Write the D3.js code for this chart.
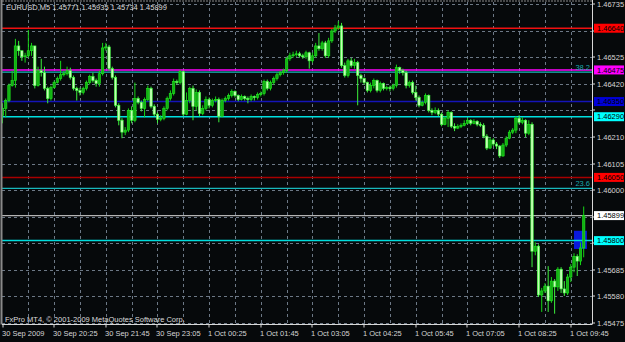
<!DOCTYPE html>
<html>
<head>
<meta charset="utf-8">
<script src="https://cdn.jsdelivr.net/npm/d3@7"></script>
<style>
  body { margin: 0; background: #000; }
  svg { display: block; }
  text { font-family: "Liberation Sans", Arial, sans-serif; }
</style>
</head>
<body>
<script>
// EURUSD M5, 30 Sep 2009 19:05 -> 1 Oct 2009 10:05 (181 bars, open = previous close)
var symbol = "EURUSD,M5";
var startTime = "2009-09-30 19:05";
var open0 = 1.46296;

var closes = [
  1.46323, 1.46354, 1.46413, 1.46433, 1.46570, 1.46551, 1.46527, 1.46531, 1.46551, 1.46570,
  1.46413, 1.46472, 1.46464, 1.46402, 1.46362, 1.46405, 1.46425, 1.46441, 1.46456, 1.46460,
  1.46472, 1.46445, 1.46402, 1.46394, 1.46386, 1.46402, 1.46425, 1.46449, 1.46433, 1.46421,
  1.46460, 1.46562, 1.46566, 1.46480, 1.46445, 1.46335, 1.46276, 1.46229, 1.46237, 1.46315,
  1.46276, 1.46362, 1.46347, 1.46323, 1.46358, 1.46402, 1.46331, 1.46300, 1.46280, 1.46284,
  1.46323, 1.46362, 1.46382, 1.46429, 1.46425, 1.46468, 1.46300, 1.46354, 1.46402, 1.46331,
  1.46386, 1.46303, 1.46323, 1.46358, 1.46335, 1.46354, 1.46358, 1.46292, 1.46354, 1.46362,
  1.46374, 1.46390, 1.46374, 1.46358, 1.46370, 1.46362, 1.46358, 1.46370, 1.46366, 1.46378,
  1.46382, 1.46429, 1.46402, 1.46425, 1.46441, 1.46456, 1.46464, 1.46472, 1.46519, 1.46531,
  1.46535, 1.46539, 1.46531, 1.46527, 1.46543, 1.46511, 1.46531, 1.46570, 1.46559, 1.46582,
  1.46531, 1.46590, 1.46629, 1.46641, 1.46649, 1.46492, 1.46453, 1.46511, 1.46492, 1.46504,
  1.46453, 1.46441, 1.46425, 1.46394, 1.46413, 1.46433, 1.46394, 1.46421, 1.46402, 1.46405,
  1.46402, 1.46413, 1.46484, 1.46472, 1.46464, 1.46413, 1.46425, 1.46386, 1.46366, 1.46335,
  1.46347, 1.46374, 1.46315, 1.46307, 1.46315, 1.46300, 1.46260, 1.46284, 1.46307, 1.46252,
  1.46245, 1.46252, 1.46256, 1.46264, 1.46276, 1.46264, 1.46272, 1.46260, 1.46256, 1.46213,
  1.46166, 1.46198, 1.46182, 1.46174, 1.46135, 1.46178, 1.46205, 1.46229, 1.46237, 1.46284,
  1.46268, 1.46276, 1.46225, 1.46260, 1.45758, 1.45778, 1.45585, 1.45601, 1.45620, 1.45562,
  1.45640, 1.45617, 1.45687, 1.45609, 1.45593, 1.45656, 1.45695, 1.45738, 1.45719, 1.45771,
  1.45899
];

var highs = [
  1.46343, 1.46362, 1.46421, 1.46472, 1.46598, 1.46590, 1.46551, 1.46543, 1.46633, 1.46582,
  1.46570, 1.46488, 1.46519, 1.46488, 1.46409, 1.46413, 1.46433, 1.46449, 1.46511, 1.46472,
  1.46488, 1.46484, 1.46453, 1.46409, 1.46405, 1.46409, 1.46433, 1.46456, 1.46464, 1.46441,
  1.46472, 1.46582, 1.46582, 1.46574, 1.46488, 1.46453, 1.46343, 1.46284, 1.46249, 1.46323,
  1.46331, 1.46425, 1.46370, 1.46354, 1.46366, 1.46413, 1.46409, 1.46339, 1.46307, 1.46296,
  1.46331, 1.46370, 1.46394, 1.46441, 1.46437, 1.46476, 1.46472, 1.46386, 1.46409, 1.46413,
  1.46398, 1.46394, 1.46335, 1.46370, 1.46366, 1.46362, 1.46370, 1.46366, 1.46362, 1.46370,
  1.46382, 1.46398, 1.46394, 1.46378, 1.46378, 1.46374, 1.46370, 1.46378, 1.46374, 1.46386,
  1.46390, 1.46437, 1.46437, 1.46433, 1.46449, 1.46464, 1.46472, 1.46480, 1.46527, 1.46543,
  1.46547, 1.46551, 1.46547, 1.46539, 1.46551, 1.46547, 1.46543, 1.46582, 1.46621, 1.46590,
  1.46590, 1.46602, 1.46637, 1.46653, 1.46668, 1.46661, 1.46504, 1.46519, 1.46523, 1.46519,
  1.46511, 1.46460, 1.46445, 1.46429, 1.46425, 1.46441, 1.46437, 1.46429, 1.46425, 1.46413,
  1.46413, 1.46421, 1.46496, 1.46488, 1.46480, 1.46472, 1.46433, 1.46433, 1.46413, 1.46374,
  1.46354, 1.46382, 1.46378, 1.46323, 1.46327, 1.46323, 1.46307, 1.46292, 1.46315, 1.46311,
  1.46264, 1.46260, 1.46264, 1.46276, 1.46284, 1.46280, 1.46280, 1.46276, 1.46268, 1.46264,
  1.46221, 1.46209, 1.46205, 1.46190, 1.46178, 1.46186, 1.46213, 1.46237, 1.46245, 1.46292,
  1.46296, 1.46288, 1.46280, 1.46276, 1.46268, 1.45793, 1.45785, 1.45613, 1.45632, 1.45699,
  1.45656, 1.45648, 1.45695, 1.45695, 1.45640, 1.45668, 1.45707, 1.45750, 1.45746, 1.45793,
  1.45935
];

var lows = [
  1.46264, 1.46288, 1.46347, 1.46409, 1.46405, 1.46531, 1.46511, 1.46504, 1.46523, 1.46531,
  1.46402, 1.46409, 1.46449, 1.46394, 1.46343, 1.46354, 1.46402, 1.46421, 1.46433, 1.46449,
  1.46453, 1.46437, 1.46394, 1.46354, 1.46374, 1.46378, 1.46394, 1.46417, 1.46425, 1.46409,
  1.46409, 1.46453, 1.46551, 1.46472, 1.46437, 1.46327, 1.46256, 1.46205, 1.46217, 1.46229,
  1.46264, 1.46268, 1.46339, 1.46311, 1.46288, 1.46351, 1.46323, 1.46292, 1.46264, 1.46272,
  1.46276, 1.46315, 1.46354, 1.46374, 1.46417, 1.46417, 1.46292, 1.46296, 1.46343, 1.46276,
  1.46315, 1.46292, 1.46296, 1.46315, 1.46323, 1.46327, 1.46347, 1.46268, 1.46288, 1.46347,
  1.46354, 1.46366, 1.46366, 1.46351, 1.46354, 1.46354, 1.46343, 1.46351, 1.46354, 1.46358,
  1.46370, 1.46374, 1.46394, 1.46394, 1.46417, 1.46433, 1.46449, 1.46456, 1.46464, 1.46511,
  1.46523, 1.46527, 1.46523, 1.46519, 1.46519, 1.46480, 1.46504, 1.46523, 1.46551, 1.46551,
  1.46523, 1.46523, 1.46582, 1.46621, 1.46633, 1.46484, 1.46445, 1.46445, 1.46484, 1.46480,
  1.46335, 1.46425, 1.46417, 1.46386, 1.46386, 1.46402, 1.46386, 1.46386, 1.46394, 1.46394,
  1.46390, 1.46394, 1.46405, 1.46460, 1.46453, 1.46402, 1.46405, 1.46378, 1.46354, 1.46327,
  1.46331, 1.46339, 1.46307, 1.46296, 1.46300, 1.46292, 1.46252, 1.46256, 1.46249, 1.46245,
  1.46233, 1.46241, 1.46245, 1.46252, 1.46260, 1.46256, 1.46260, 1.46252, 1.46249, 1.46205,
  1.46158, 1.46162, 1.46174, 1.46162, 1.46127, 1.46131, 1.46170, 1.46201, 1.46221, 1.46225,
  1.46260, 1.46260, 1.46209, 1.46217, 1.45695, 1.45742, 1.45577, 1.45518, 1.45593, 1.45518,
  1.45554, 1.45511, 1.45601, 1.45593, 1.45581, 1.45585, 1.45636, 1.45675, 1.45660, 1.45703,
  1.45734
];

// price scale labels (grid), time labels
var priceTicks = [1.46735, 1.46630, 1.46525, 1.46420, 1.46315, 1.46210, 1.46105,
                  1.46000, 1.45895, 1.45790, 1.45685, 1.45580, 1.45475];
var timeTicks = ["2009-09-30 19:05", "2009-09-30 20:25", "2009-09-30 21:45", "2009-09-30 23:05",
                 "2009-10-01 00:25", "2009-10-01 01:45", "2009-10-01 03:05", "2009-10-01 04:25",
                 "2009-10-01 05:45", "2009-10-01 07:05", "2009-10-01 08:25", "2009-10-01 09:45"];
var timeTickLabels = ["30 Sep 2009", "30 Sep 20:25", "30 Sep 21:45", "30 Sep 23:05",
                      "1 Oct 00:25", "1 Oct 01:45", "1 Oct 03:05", "1 Oct 04:25",
                      "1 Oct 05:45", "1 Oct 07:05", "1 Oct 08:25", "1 Oct 09:45"];

// horizontal line objects
var levelPrices = [1.46640, 1.46475, 1.46350, 1.46290, 1.46050, 1.45800];
var levelLineColors = ["#f01010", "#ff00ff", "#1414b8", "#00e0e0", "#a80000", "#00dcdc"];
var levelBoxColors = ["#ff0000", "#ff00ff", "#0000d8", "#00ffff", "#ff0000", "#00ffff"];

// fibonacci levels
var fibNames = ["38.2", "23.6"];
var fibPrices = [1.46466, 1.46007];

// rectangle object
var rectTimes = ["2009-10-01 09:50", "2009-10-01 10:10"];
var rectPrices = [1.45839, 1.45767];

var W = 625, H = 342;
var pLeft = 2, pRight = 592, pTop = 2, pBottom = 324.5;
var parse = d3.timeParse("%Y-%m-%d %H:%M");
var fmt = d3.format(".5f");
var t0 = parse(startTime);

var bars = closes.map(function(c, i) {
  return {
    t: d3.timeMinute.offset(t0, 5 * i),
    o: i ? closes[i - 1] : open0,
    h: highs[i], l: lows[i], c: c
  };
});
var bid = closes[closes.length - 1];

var x = d3.scaleTime()
  .domain([bars[0].t, bars[bars.length - 1].t])
  .range([2.5, 583.7]);
var y = d3.scaleLinear()
  .domain([1.45475, 1.46735])
  .range([322.8, 4.2]);

var svg = d3.select("body").append("svg")
  .attr("width", W).attr("height", H);

svg.append("rect").attr("width", W).attr("height", H).attr("fill", "#06090b");

svg.append("clipPath").attr("id", "plotclip")
  .append("rect").attr("x", pLeft).attr("y", pTop)
  .attr("width", pRight - pLeft).attr("height", pBottom - pTop);

var plot = svg.append("g").attr("clip-path", "url(#plotclip)");

// grid
plot.append("g").selectAll("line")
  .data(priceTicks)
  .enter().append("line")
    .attr("x1", pLeft).attr("x2", pRight)
    .attr("y1", function(d) { return Math.round(y(d)) + 0.5; })
    .attr("y2", function(d) { return Math.round(y(d)) + 0.5; })
    .attr("stroke", "#6c7886").attr("stroke-dasharray", "3,3");

var gridBars = bars.filter(function(d, i) { return i > 0 && i % 8 === 0; });
plot.append("g").selectAll("line")
  .data(gridBars)
  .enter().append("line")
    .attr("x1", function(d) { return Math.round(x(d.t)) + 0.5; })
    .attr("x2", function(d) { return Math.round(x(d.t)) + 0.5; })
    .attr("y1", pTop).attr("y2", pBottom)
    .attr("stroke", "#6c7886").attr("stroke-dasharray", "3,3");

// rectangle object (behind the bars)
plot.append("rect")
  .attr("x", x(parse(rectTimes[0])))
  .attr("width", x(parse(rectTimes[1])) - x(parse(rectTimes[0])))
  .attr("y", y(rectPrices[0]))
  .attr("height", y(rectPrices[1]) - y(rectPrices[0]))
  .attr("fill", "#0a18dc");

// level lines
plot.append("g").selectAll("line")
  .data(levelPrices)
  .enter().append("line")
    .attr("x1", pLeft).attr("x2", pRight)
    .attr("y1", function(d) { return y(d); })
    .attr("y2", function(d) { return y(d); })
    .attr("stroke", function(d, i) { return levelLineColors[i]; })
    .attr("stroke-width", 1.5);

plot.append("g").selectAll("line")
  .data(fibPrices)
  .enter().append("line")
    .attr("x1", pLeft).attr("x2", pRight)
    .attr("y1", function(d) { return y(d); })
    .attr("y2", function(d) { return y(d); })
    .attr("stroke", "#18b8bc").attr("stroke-width", 1.2);

plot.append("g").selectAll("text")
  .data(fibPrices)
  .enter().append("text")
    .attr("x", pRight - 2)
    .attr("y", function(d) { return y(d) - 2; })
    .attr("text-anchor", "end")
    .attr("font-size", "7.5px")
    .attr("fill", "#1aa8ac")
    .text(function(d, i) { return fibNames[i]; });

// bid line
plot.append("line")
  .attr("x1", pLeft).attr("x2", pRight)
  .attr("y1", y(bid)).attr("y2", y(bid))
  .attr("stroke", "#b4b4b4").attr("stroke-width", 1.2);

// candles
var candle = plot.append("g").selectAll("g")
  .data(bars)
  .enter().append("g")
    .attr("transform", function(d) { return "translate(" + x(d.t) + ",0)"; });

candle.append("line")
  .attr("y1", function(d) { return y(d.h); })
  .attr("y2", function(d) { return y(d.l); })
  .attr("stroke", function(d) { return d.c >= d.o ? "#16d616" : "#3cf03c"; })
  .attr("stroke-width", 1);

candle.append("rect")
  .attr("x", -1.2).attr("width", 2.4)
  .attr("y", function(d) { return y(Math.max(d.o, d.c)); })
  .attr("height", function(d) { return Math.max(1, Math.abs(y(d.o) - y(d.c))); })
  .attr("fill", function(d) { return d.c >= d.o ? "#12b012" : "#c4ffb4"; })
  .attr("stroke", function(d) { return d.c >= d.o ? "#20e820" : "#3cff3c"; })
  .attr("stroke-width", 0.6);

// frame
svg.append("line").attr("x1", 1.5).attr("x2", 1.5).attr("y1", 0).attr("y2", pBottom)
  .attr("stroke", "#8a8a8a").attr("stroke-width", 2);
svg.append("line").attr("x1", pLeft).attr("x2", pRight).attr("y1", 1).attr("y2", 1)
  .attr("stroke", "#8a8a8a").attr("stroke-dasharray", "2,1");
svg.append("line").attr("x1", pRight + 0.5).attr("x2", pRight + 0.5).attr("y1", 0).attr("y2", pBottom)
  .attr("stroke", "#d8d8d8");
svg.append("line").attr("x1", pLeft).attr("x2", pRight).attr("y1", pBottom).attr("y2", pBottom)
  .attr("stroke", "#d8d8d8");

// price axis: labels hidden behind the level boxes are not drawn
var boxPrices = levelPrices.concat([bid]);
var py = svg.append("g").selectAll("g")
  .data(priceTicks)
  .enter().append("g")
    .attr("transform", function(d) { return "translate(0," + Math.round(y(d)) + ")"; });
py.append("line").attr("x1", pRight).attr("x2", pRight + 3).attr("stroke", "#d8d8d8");
py.filter(function(d) {
    return boxPrices.every(function(b) { return Math.abs(y(b) - y(d)) > 6.5; });
  })
  .append("text")
    .attr("x", 597).attr("dy", "0.35em")
    .attr("font-size", "7.5px").attr("fill", "#d4d4d4")
    .text(function(d) { return fmt(d); });

// level price boxes
var boxes = svg.append("g").selectAll("g")
  .data(boxPrices)
  .enter().append("g")
    .attr("transform", function(d) { return "translate(594," + y(d) + ")"; });
boxes.append("rect")
  .attr("x", 0).attr("y", -4.5).attr("width", 30).attr("height", 9)
  .attr("fill", function(d, i) { return i < levelBoxColors.length ? levelBoxColors[i] : "#ffffff"; });
boxes.append("text")
  .attr("x", 3).attr("dy", "0.35em")
  .attr("font-size", "7.5px").attr("fill", "#000")
  .text(function(d) { return fmt(d); });

// time axis
var tx = svg.append("g").selectAll("g")
  .data(timeTicks)
  .enter().append("g")
    .attr("transform", function(d) { return "translate(" + Math.round(x(parse(d))) + ",0)"; });
tx.append("line").attr("y1", pBottom).attr("y2", pBottom + 3).attr("stroke", "#d8d8d8");
tx.append("text")
  .attr("x", -1).attr("y", 336)
  .attr("font-size", "7.5px").attr("fill", "#d4d4d4")
  .text(function(d, i) { return timeTickLabels[i]; });

// header and copyright
var last = bars[bars.length - 1];
svg.append("text")
  .attr("x", 6).attr("y", 10)
  .attr("font-size", "7.5px").attr("fill", "#dcdcdc")
  .text(symbol + " " + [last.o, last.h, last.l, last.c].map(fmt).join(" "));

svg.append("text")
  .attr("x", 5).attr("y", 322)
  .attr("font-size", "7.5px").attr("fill", "#dcdcdc")
  .text("FxPro MT4, \u00a9 2001-2009 MetaQuotes Software Corp.");
</script>
</body>
</html>
